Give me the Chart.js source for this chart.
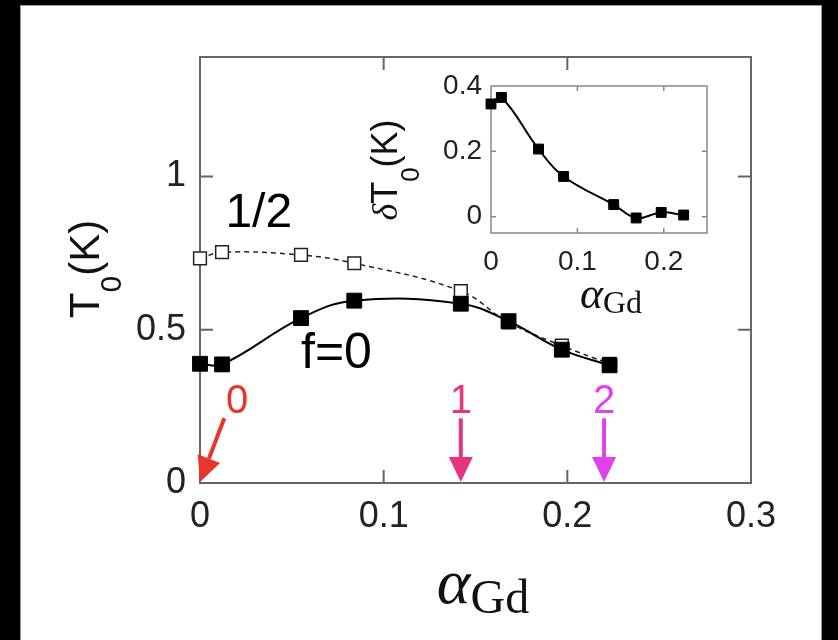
<!DOCTYPE html>
<html>
<head>
<meta charset="utf-8">
<script src="https://cdn.jsdelivr.net/npm/chart.js@4.4.1/dist/chart.umd.min.js"></script>
<style>
  html, body { margin: 0; padding: 0; background: #000; }
  #wrap { position: relative; width: 838px; height: 640px; }
  canvas { position: absolute; left: 0; top: 0; }
  #inset { pointer-events: none; }
</style>
</head>
<body>
<div id="wrap">
  <canvas id="main" width="838" height="640"></canvas>
  <canvas id="inset" width="838" height="640"></canvas>
</div>
<script>
// Gd concentration and transition temperatures
const alphaGd = [0, 0.012, 0.055, 0.084, 0.142, 0.168, 0.197, 0.223];
const t0Zero  = [0.389, 0.387, 0.538, 0.595, 0.585, 0.528, 0.435, 0.384];   // f = 0
const t0Half  = [0.733, 0.753, 0.744, 0.717, 0.626, 0.524, 0.448, 0.389];   // f = 1/2
const dT0     = [0.345, 0.365, 0.207, 0.123, 0.037, -0.004, 0.013, 0.005];  // inset

const mainXTicks = [0, 0.1, 0.2, 0.3];
const mainYTicks = [0, 0.5, 1];
const insetXTicks = [0, 0.1, 0.2];
const insetYTicks = [0, 0.2, 0.4];

// marked concentrations (arrows)
const markLabels = ['0', '1', '2'];
const markAlpha  = [0, 0.142, 0.220];
const markColors = ['#e8352b', '#e8337f', '#e040ee'];

Chart.defaults.font.family = 'Liberation Sans';
Chart.defaults.color = '#222';

const pairs = (xs, ys) => xs.map((x, i) => ({ x: x, y: ys[i] }));
const fixTicks = list => scale => { scale.ticks = list.map(v => ({ value: v })); };

// text made of pieces with different fonts / baseline shifts
function drawPieces(ctx, pieces, cx, baseY) {
  let total = 0;
  pieces.forEach(p => { ctx.font = p.font; p.w = ctx.measureText(p.text).width; total += p.w; });
  let x = cx - total / 2;
  ctx.textAlign = 'left';
  ctx.textBaseline = 'alphabetic';
  pieces.forEach(p => {
    ctx.font = p.font;
    ctx.fillText(p.text, x, baseY + (p.dy || 0));
    x += p.w;
  });
}

function drawArrow(ctx, x0, y0, x1, y1, color) {
  const ang = Math.atan2(y1 - y0, x1 - x0);
  const head = 25, half = 12;
  const bx = x1 - head * Math.cos(ang), by = y1 - head * Math.sin(ang);
  ctx.strokeStyle = color;
  ctx.fillStyle = color;
  ctx.lineWidth = 4;
  ctx.beginPath();
  ctx.moveTo(x0, y0);
  ctx.lineTo(bx, by);
  ctx.stroke();
  ctx.beginPath();
  ctx.moveTo(x1, y1);
  ctx.lineTo(bx + half * Math.sin(ang), by - half * Math.cos(ang));
  ctx.lineTo(bx - half * Math.sin(ang), by + half * Math.cos(ang));
  ctx.closePath();
  ctx.fill();
}

// frame + inward ticks on all four sides
function drawFrame(chart, xt, yt, len, color, lw) {
  const { ctx, chartArea: a, scales } = chart;
  ctx.save();
  ctx.strokeStyle = color;
  ctx.lineWidth = lw;
  ctx.strokeRect(a.left, a.top, a.right - a.left, a.bottom - a.top);
  ctx.beginPath();
  xt.forEach(v => {
    const px = scales.x.getPixelForValue(v);
    ctx.moveTo(px, a.bottom); ctx.lineTo(px, a.bottom - len);
    ctx.moveTo(px, a.top); ctx.lineTo(px, a.top + len);
  });
  yt.forEach(v => {
    const py = scales.y.getPixelForValue(v);
    ctx.moveTo(a.left, py); ctx.lineTo(a.left + len, py);
    ctx.moveTo(a.right, py); ctx.lineTo(a.right - len, py);
  });
  ctx.stroke();
  ctx.restore();
}

const mainDecor = {
  id: 'mainDecor',
  beforeDraw(chart) {
    const ctx = chart.ctx;
    ctx.save();
    ctx.fillStyle = '#000';
    ctx.fillRect(0, 0, chart.width, chart.height);
    ctx.fillStyle = '#fff';
    ctx.fillRect(20, 5, 802, 635);
    ctx.strokeStyle = '#999';
    ctx.lineWidth = 1;
    ctx.strokeRect(20.5, 5.5, 801, 640);
    ctx.restore();
  },
  beforeDatasetsDraw(chart) {
    drawFrame(chart, [0.1, 0.2], [0.5, 1], 13, '#666', 2);
  },
  afterDraw(chart) {
    const { ctx, scales } = chart;
    const px = v => scales.x.getPixelForValue(v);
    const py = v => scales.y.getPixelForValue(v);

    ctx.save();
    ctx.fillStyle = '#000';
    // curve labels
    ctx.font = '48px Liberation Sans';
    ctx.textAlign = 'center';
    ctx.fillText('1/2', px(0.032), py(0.834));
    ctx.font = '50px Liberation Sans';
    ctx.textAlign = 'left';
    ctx.fillText('f=0', px(0.055), py(0.376));

    // arrows marking the three samples
    markAlpha.forEach((a, i) => {
      const tip = [px(a), py(0) - 1];
      const tail = i === 0 ? [px(0.0132), py(0.211)] : [px(a), py(0.211)];
      drawArrow(ctx, tail[0], tail[1], tip[0], tip[1], markColors[i]);
      ctx.fillStyle = markColors[i];
      ctx.font = '40px Liberation Sans';
      ctx.textAlign = 'center';
      const lx = i === 0 ? px(0.0202) : px(a);
      ctx.fillText(markLabels[i], lx, py(0.227));
    });

    // axis titles
    ctx.fillStyle = '#111';
    ctx.save();
    ctx.translate(99, 269);
    ctx.rotate(-Math.PI / 2);
    drawPieces(ctx, [
      { text: 'T', font: '42px Liberation Sans' },
      { text: '0', font: '30px Liberation Sans', dy: 22 },
      { text: '(K)', font: '42px Liberation Sans' }
    ], 0, 0);
    ctx.restore();
    drawPieces(ctx, [
      { text: 'α', font: 'italic 64px Liberation Serif' },
      { text: 'Gd', font: '48px Liberation Serif', dy: 10 }
    ], 483, 603);
    ctx.restore();
  }
};

new Chart(document.getElementById('main'), {
  type: 'scatter',
  data: {
    datasets: [
      {
        data: pairs(alphaGd, t0Zero),
        clip: false,
        showLine: true,
        tension: 0.4,
        borderColor: '#000',
        borderWidth: 2,
        pointStyle: 'rect',
        pointRadius: 10.5,
        pointBackgroundColor: '#000',
        pointBorderColor: '#000',
        pointBorderWidth: 1
      },
      {
        data: pairs(alphaGd, t0Half),
        clip: false,
        showLine: true,
        tension: 0.4,
        borderColor: '#222',
        borderWidth: 1.5,
        borderDash: [5, 4],
        pointStyle: 'rect',
        pointRadius: 9,
        pointBackgroundColor: '#fff',
        pointBorderColor: '#222',
        pointBorderWidth: 1.5
      }
    ]
  },
  options: {
    responsive: false,
    animation: false,
    layout: { padding: { left: 0, top: 57, right: 87, bottom: 0 } },
    plugins: { legend: { display: false }, tooltip: { enabled: false } },
    scales: {
      x: {
        type: 'linear', min: 0, max: 0.3,
        afterFit: s => { s.height = 157; },
        afterBuildTicks: fixTicks(mainXTicks),
        grid: { display: false, drawTicks: false },
        border: { display: false },
        ticks: { padding: 12, font: { size: 36 }, color: '#222', callback: v => String(v) }
      },
      y: {
        type: 'linear', min: 0, max: 1.39,
        afterFit: s => { s.width = 200; },
        afterBuildTicks: fixTicks(mainYTicks),
        grid: { display: false, drawTicks: false },
        border: { display: false },
        ticks: { padding: 14, font: { size: 36 }, color: '#222', callback: v => String(v) }
      }
    }
  },
  plugins: [mainDecor]
});

const insetDecor = {
  id: 'insetDecor',
  beforeDraw(chart) {
    const { ctx, chartArea: a } = chart;
    ctx.save();
    ctx.fillStyle = '#fff';
    ctx.fillRect(a.left, a.top, a.right - a.left, a.bottom - a.top);
    ctx.restore();
  },
  beforeDatasetsDraw(chart) {
    drawFrame(chart, [0.1, 0.2], [0, 0.2], 5, '#888', 1.5);
  },
  afterDraw(chart) {
    const ctx = chart.ctx;
    ctx.save();
    ctx.fillStyle = '#111';
    ctx.save();
    ctx.translate(397, 170);
    ctx.rotate(-Math.PI / 2);
    drawPieces(ctx, [
      { text: 'δ', font: 'italic 36px Liberation Serif' },
      { text: 'T', font: '36px Liberation Sans' },
      { text: '0', font: '26px Liberation Sans', dy: 22 },
      { text: '(K)', font: '36px Liberation Sans' }
    ], 0, 0);
    ctx.restore();
    drawPieces(ctx, [
      { text: 'α', font: 'italic 44px Liberation Serif' },
      { text: 'Gd', font: '32px Liberation Serif', dy: 5 }
    ], 611, 308);
    ctx.restore();
  }
};

new Chart(document.getElementById('inset'), {
  type: 'scatter',
  data: {
    datasets: [{
      data: pairs(alphaGd, dT0),
      clip: false,
      showLine: true,
      tension: 0.4,
      borderColor: '#000',
      borderWidth: 2,
      pointStyle: 'rect',
      pointRadius: 7,
      pointBackgroundColor: '#000',
      pointBorderColor: '#000',
      pointBorderWidth: 1
    }]
  },
  options: {
    responsive: false,
    animation: false,
    layout: { padding: { left: 0, top: 86, right: 131, bottom: 0 } },
    plugins: { legend: { display: false }, tooltip: { enabled: false } },
    scales: {
      x: {
        type: 'linear', min: 0, max: 0.25,
        afterFit: s => { s.height = 407; },
        afterBuildTicks: fixTicks(insetXTicks),
        grid: { display: false, drawTicks: false },
        border: { display: false },
        ticks: { padding: 12, font: { size: 28 }, color: '#222', callback: v => String(v) }
      },
      y: {
        type: 'linear', min: -0.05, max: 0.4,
        afterFit: s => { s.width = 491; },
        afterBuildTicks: fixTicks(insetYTicks),
        grid: { display: false, drawTicks: false },
        border: { display: false },
        ticks: { padding: 9, font: { size: 28 }, color: '#222', callback: v => String(v) }
      }
    }
  },
  plugins: [insetDecor]
});
</script>
</body>
</html>
